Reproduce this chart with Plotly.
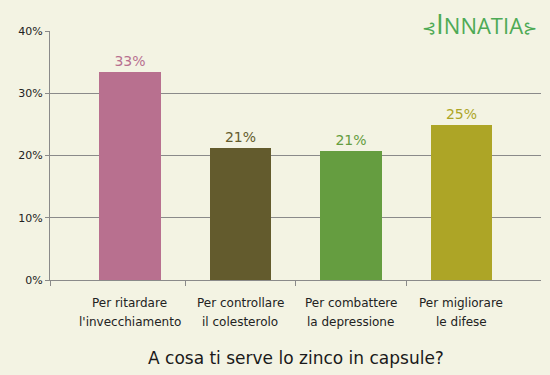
import plotly.graph_objects as go

categories_line1 = ["Per ritardare", "Per controllare", "Per combattere", "Per migliorare"]
categories_line2 = ["l'invecchiamento", "il colesterolo", "la depressione", "le difese"]
values = [33.4, 21.2, 20.7, 24.9]
value_labels = ["33%", "21%", "21%", "25%"]
colors = ["#B8708F", "#635B2D", "#659D40", "#ADA526"]
y_ticks = [0, 10, 20, 30, 40]
title_text = "A cosa ti serve lo zinco in capsule?"

FONT = "DejaVu Sans, Verdana, sans-serif"
BG = "#F3F3E3"
GRID = "#8A8A8A"

x_pos = list(range(len(values)))

fig = go.Figure()
fig.add_trace(go.Bar(
    x=x_pos, y=values, width=0.56,
    marker=dict(color=colors, line=dict(width=0)),
    text=value_labels, textposition="outside",
    textfont=dict(family=FONT, size=14, color=colors),
    cliponaxis=False, hoverinfo="skip",
))

annotations = []
for i in x_pos:
    annotations.append(dict(x=i, xref="x", y=0, yref="paper", yanchor="middle",
                            yshift=-23, text=categories_line1[i], showarrow=False,
                            font=dict(family=FONT, size=12, color="#222222")))
    annotations.append(dict(x=i, xref="x", y=0, yref="paper", yanchor="middle",
                            yshift=-42, text=categories_line2[i], showarrow=False,
                            font=dict(family=FONT, size=12, color="#222222")))
annotations.append(dict(x=0.5, xref="paper", y=0, yref="paper", yanchor="middle",
                        yshift=-78, text=title_text, showarrow=False,
                        font=dict(family=FONT, size=17, color="#1a1a1a")))
annotations.append(dict(x=1.0, xref="paper", y=1.0, yref="paper", xanchor="right",
                        yanchor="top", yshift=29, xshift=-2,
                        text="<span style='font-size:17px'>⊰</span><span style='font-size:28px'>I</span>NNATIA<span style='font-size:17px'>⊱</span>",
                        showarrow=False,
                        font=dict(family="Open Sans, sans-serif", size=22, color="#4DAA55")))

fig.update_layout(
    width=550, height=375,
    margin=dict(l=50, r=9, t=31, b=95),
    paper_bgcolor=BG, plot_bgcolor=BG,
    showlegend=False,
    annotations=annotations,
    bargap=0,
)
fig.update_xaxes(
    range=[-0.724, 3.72],
    tickmode="array", tickvals=[-0.724, 0.5, 1.5, 2.5],
    showticklabels=False, ticks="outside", ticklen=5, tickcolor=GRID,
    showline=True, linecolor=GRID, linewidth=1, showgrid=False, zeroline=False,
)
fig.update_yaxes(
    range=[0, 40], tickmode="array", tickvals=y_ticks,
    ticktext=[f"{v}%" for v in y_ticks],
    ticks="outside", ticklen=4, tickcolor=GRID,
    tickfont=dict(family=FONT, size=11, color="#222222"),
    showline=True, linecolor=GRID, linewidth=1,
    showgrid=True, gridcolor=GRID, gridwidth=1, zeroline=False,
)

fig.write_html("out.html", config={"displayModeBar": False},
               post_script="document.body.style.margin='0';")
